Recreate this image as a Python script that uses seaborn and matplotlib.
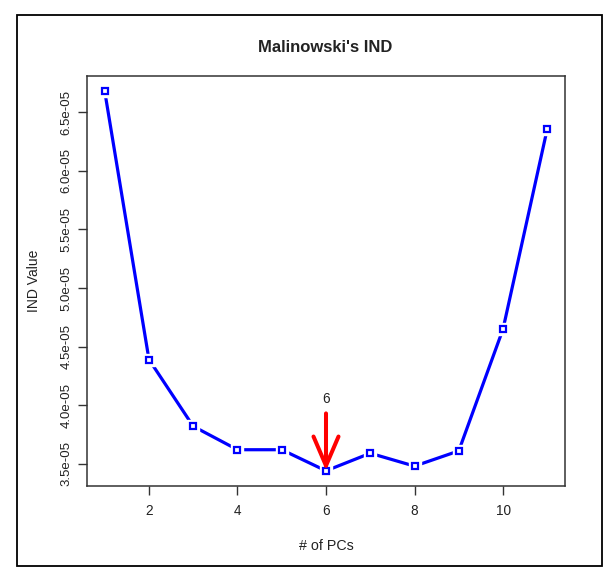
import matplotlib
matplotlib.use("Agg")
import matplotlib.pyplot as plt
import seaborn as sns
import pandas as pd
from matplotlib.patches import Rectangle

# ---- data ----
n_pcs = [1, 2, 3, 4, 5, 6, 7, 8, 9, 10, 11]
ind_value = [6.68e-05, 4.39e-05, 3.82e-05, 3.62e-05, 3.62e-05, 3.44e-05,
             3.59e-05, 3.48e-05, 3.61e-05, 4.65e-05, 6.36e-05]
x_ticks = [2, 4, 6, 8, 10]
y_ticks = [3.5e-05, 4.0e-05, 4.5e-05, 5.0e-05, 5.5e-05, 6.0e-05, 6.5e-05]
y_tick_labels = ["3.5e-05", "4.0e-05", "4.5e-05", "5.0e-05", "5.5e-05", "6.0e-05", "6.5e-05"]
best_pc = 6
title = "Malinowski's IND"
x_label = "# of PCs"
y_label = "IND Value"

df = pd.DataFrame({"pcs": n_pcs, "ind": ind_value})

sns.set_style("white")
plt.rcParams["font.family"] = ["Liberation Sans", "DejaVu Sans"]

fig = plt.figure(figsize=(6.15, 5.7), dpi=100)
ax = fig.add_axes([87 / 615, 1 - 486 / 570, (565 - 87) / 615, (486 - 76) / 570])

# line
sns.lineplot(data=df, x="pcs", y="ind", ax=ax, color="#0000ff", lw=2.3, zorder=2)
# white gaps around points (R type="b")
ax.plot(df["pcs"], df["ind"], ls="none", marker="s", ms=8.5, mfc="white",
        mec="white", zorder=3)
# open square markers
ax.plot(df["pcs"], df["ind"], ls="none", marker="s", ms=4.6, mfc="white",
        mec="#0000ff", mew=1.6, zorder=4)

# axis ranges (R 4% extension)
xmin, xmax = min(n_pcs), max(n_pcs)
ymin, ymax = min(ind_value), max(ind_value)
dx, dy = (xmax - xmin) * 0.04, (ymax - ymin) * 0.04
ax.set_xlim(xmin - dx, xmax + dx)
ax.set_ylim(ymin - dy, ymax + dy)

ax.set_xticks(x_ticks)
ax.set_xticklabels([str(t) for t in x_ticks], fontsize=9.8, color="#222222")
ax.set_yticks(y_ticks)
ax.set_yticklabels(y_tick_labels, fontsize=9.5, rotation=90, va="center",
                   color="#222222")
ax.tick_params(axis="both", direction="out", length=6.2, width=1, color="#333333",
               bottom=True, left=True)
ax.tick_params(axis="x", pad=7)
ax.tick_params(axis="y", pad=4)
for s in ax.spines.values():
    s.set_color("#333333")
    s.set_linewidth(1.1)

ax.set_xlabel(x_label, fontsize=10.3, labelpad=15, color="#222222")
ax.set_ylabel(y_label, fontsize=10, labelpad=14, color="#222222")
fig.text(325 / 615, 1 - 47 / 570, title, fontsize=12, fontweight="bold",
         ha="center", va="center", color="#222222")

# red arrow to chosen number of PCs
best_val = ind_value[n_pcs.index(best_pc)]
ax.annotate("", xy=(best_pc, best_val), xytext=(best_pc, 3.93e-05),
            arrowprops=dict(arrowstyle="->,head_length=1.05,head_width=0.45",
                            color="#ff0000", lw=2.9, mutation_scale=20,
                            shrinkA=0, shrinkB=0), zorder=5)
ax.text(best_pc, 4.05e-05, str(best_pc), fontsize=9.8, ha="center", va="center",
        color="#222222")

# outer frame of the screenshot
fig.patches.append(Rectangle((17 / 615, 1 - 566 / 570), (602 - 17) / 615,
                             (566 - 15) / 570, transform=fig.transFigure,
                             fill=False, edgecolor="black", lw=1.3))

fig.savefig("out.png", dpi=100)
